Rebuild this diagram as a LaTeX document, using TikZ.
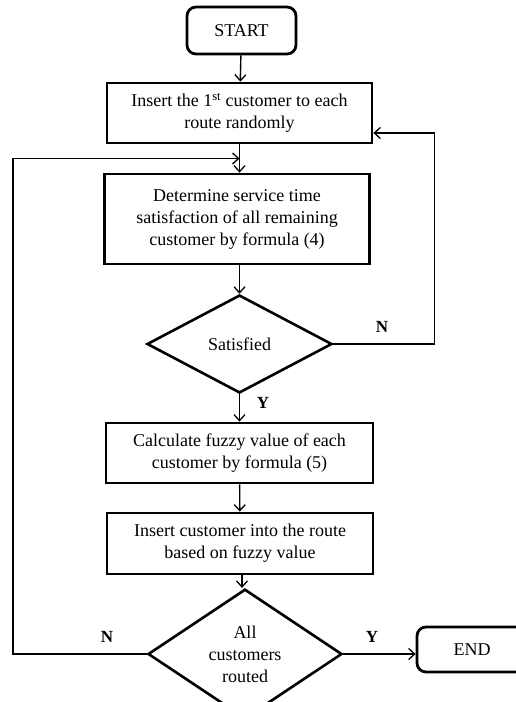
\documentclass[tikz,border=0pt]{standalone}
\usepackage{fontspec}
\setmainfont{Liberation Serif}
\usetikzlibrary{shapes.geometric,arrows.meta,calc}
\begin{document}
\begin{tikzpicture}[x=1pt,y=-1pt,
  font=\fontsize{18}{22}\selectfont,
  >={Straight Barb[length=6pt,width=11pt,line width=1.3pt]},
  boxnode/.style={draw,line width=2.8pt,rectangle,align=center,inner sep=0pt},
  termnode/.style={boxnode,rounded corners=9pt},
  decnode/.style={draw,line width=2.6pt,diamond,inner sep=0pt,align=center},
  conn/.style={line width=1.4pt},
  lbl/.style={font=\fontsize{17}{20}\selectfont\bfseries}]
\useasboundingbox (0,0) rectangle (515,702);
\node[termnode,minimum width=109pt,minimum height=47pt] (start) at (241.5,30.5) {START};
\node[boxnode,minimum width=265pt,minimum height=60pt] (b1) at (239.5,113) {Insert the 1\textsuperscript{st} customer to each\\route randomly};
\node[boxnode,minimum width=265pt,minimum height=90pt] (b2) at (237,219) {Determine service time\\satisfaction of all remaining\\customer by formula (4)};
\node[decnode,minimum width=185pt,minimum height=98pt] (d1) at (239.5,344) {Satisfied};
\node[boxnode,minimum width=267pt,minimum height=60pt] (b3) at (239.5,453) {Calculate fuzzy value of each\\customer by formula (5)};
\node[boxnode,minimum width=266pt,minimum height=61pt] (b4) at (240,543.5) {Insert customer into the route\\based on fuzzy value};
\node[decnode,minimum width=194pt,minimum height=98pt] (d2) at (245,654) {All\\customers\\routed};
\node[termnode,minimum width=110pt,minimum height=45pt] (end) at (472,649.5) {END};
\node[lbl] (ln1) at (382,327) {N};
\node[lbl] (ly1) at (263,403) {Y};
\node[lbl] (ln2) at (107,637) {N};
\node[lbl] (ly2) at (372,637) {Y};
\coordinate (j) at ($(b1.south)!0.5!(b2.north)$);
\draw[conn,->] (start) -- (b1);
\draw[conn,->] (b1.south) -- (b1.south |- b2.north);
\draw[conn,->] (b2.south -| d1.north) -- (d1.north);
\draw[conn,->] (d1.south) -- (d1.south |- b3.north);
\draw[conn,->] (b3) -- (b4);
\draw[conn,->] ([xshift=2pt]b4.south) -- ([xshift=2pt]b4.south |- d2.north);
\draw[conn,->] (d1.east) -- ++(101,0) |- ([yshift=-20pt]b1.east);
\draw[conn,->] (d2.west) -- (13,654) |- (b1.south |- j);
\draw[conn,->] (d2.east) -- (end.west |- d2.east);
\end{tikzpicture}
\end{document}
